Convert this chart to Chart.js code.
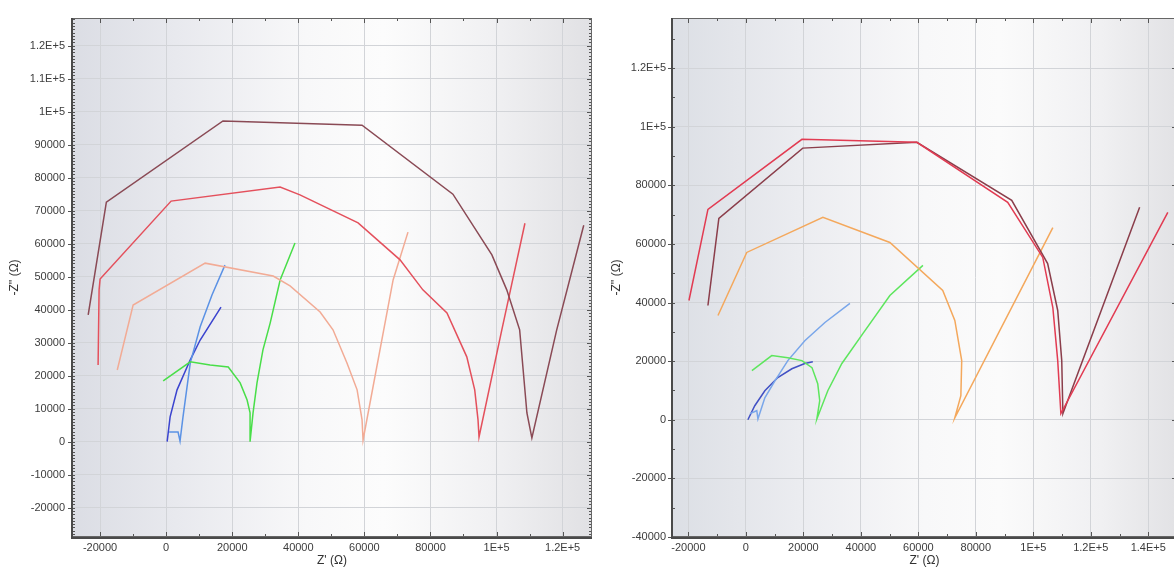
<!DOCTYPE html>
<html><head><meta charset="utf-8">
<script src="https://cdn.jsdelivr.net/npm/chart.js@4"></script>
<style>
html,body{margin:0;padding:0;overflow:hidden;background:#fff;width:1174px;height:569px;}
#wrap{position:relative;width:1174px;height:569px;overflow:hidden;}
#p1{position:absolute;left:0;top:0;width:600px;height:569px;}
#p2{position:absolute;left:600px;top:0;width:600px;height:569px;}
</style></head><body>
<div id="wrap"><div id="p1"><canvas id="c1"></canvas></div><div id="p2"><canvas id="c2"></canvas></div></div>
<script>
// ---------- tick labels ----------
const leftXTicks  = [-20000, 0, 20000, 40000, 60000, 80000, 100000, 120000];
const leftYTicks  = [-20000, -10000, 0, 10000, 20000, 30000, 40000, 50000, 60000, 70000, 80000, 90000, 100000, 110000, 120000];
const rightXTicks = [-20000, 0, 20000, 40000, 60000, 80000, 100000, 120000, 140000];
const rightYTicks = [-40000, -20000, 0, 20000, 40000, 60000, 80000, 100000, 120000];

// ---------- left panel series ----------
const L_brown_x = [-23600, -18100, 17200, 59300, 86800, 98600, 103100, 107000, 109200, 110700, 118200, 126400];
const L_brown_y = [38400, 72600, 97200, 95900, 75000, 56600, 46000, 33900, 8700, 1100, 33800, 65600];
const L_red_x = [-20600, -20300, -20000, 1500, 34500, 40500, 58100, 70800, 77700, 85000, 91000, 93400, 94400, 94700, 101600, 108600];
const L_red_y = [23200, 46000, 49300, 72900, 77200, 74800, 66300, 55100, 46000, 39000, 25700, 15700, 6600, 1400, 33900, 66200];
const L_salmon_x = [-14800, -10000, 11800, 32400, 37500, 46600, 50500, 54700, 57800, 59300, 59600, 68700, 73200];
const L_salmon_y = [21700, 41400, 54100, 50200, 47200, 39300, 33900, 23900, 15700, 6600, 500, 49000, 63500];
const L_green_x = [-900, 7300, 13300, 18800, 22400, 24500, 25400, 25400, 26300, 27500, 29300, 31500, 34500, 39000];
const L_green_y = [18400, 24200, 23200, 22600, 17800, 12600, 8700, 0, 8700, 17800, 27800, 36000, 49000, 60200];
const L_lblue_x = [900, 3600, 4200, 5100, 7300, 10300, 13900, 17800];
const L_lblue_y = [2900, 2900, 200, 7500, 23900, 34800, 44500, 53500];
const L_dblue_x = [300, 1200, 3300, 7300, 10300, 16600];
const L_dblue_y = [0, 7500, 15700, 24800, 30800, 40800];

// ---------- right panel series ----------
const R_red_x = [-19800, -13200, 19500, 59500, 91100, 103300, 106800, 108500, 109600, 146800];
const R_red_y = [40700, 71800, 95700, 94700, 74200, 55400, 38300, 20200, 2100, 70800];
const R_brown_x = [-13200, -9400, 19800, 59500, 92500, 105000, 108500, 109900, 110300, 137000];
const R_brown_y = [39000, 68700, 92700, 94700, 74900, 53300, 37300, 20200, 2100, 72500];
const R_orange_x = [-9700, 300, 26800, 50100, 68500, 72700, 75100, 74800, 72700, 106800];
const R_orange_y = [35600, 57100, 69100, 60500, 44100, 33900, 20200, 8200, 700, 65600];
const R_green_x = [2100, 9000, 14600, 19500, 23000, 25000, 25700, 24700, 28500, 33400, 40700, 50100, 61600];
const R_green_y = [16800, 21900, 21200, 20200, 17800, 12300, 6500, 300, 9900, 19200, 29400, 42400, 52700];
const R_lblue_x = [1400, 3800, 4200, 6600, 10100, 14600, 20500, 27500, 36200];
const R_lblue_y = [2100, 3100, 300, 7500, 13300, 20200, 27000, 33200, 39700];
const R_dblue_x = [700, 3100, 6600, 11100, 16000, 20500, 23300];
const R_dblue_y = [0, 4800, 9900, 14400, 17400, 19200, 19800];

function pts(xs, ys){ return xs.map((x,i)=>({x:x, y:ys[i]})); }
function fmt(v){ if (Math.abs(v) >= 100000) return (Math.round(v/1e4)/10) + 'E+5'; return String(v); }
function ds(xs, ys, color){ return {data: pts(xs, ys), showLine:true, borderColor:color, backgroundColor:color, borderWidth:1.5, pointRadius:0, pointHoverRadius:0, fill:false, tension:0}; }

function framePlugin(o){
  return {
    id:'frame',
    beforeDraw(chart){
      const {ctx, chartArea:a} = chart;
      const g = ctx.createLinearGradient(a.left,0,a.right,0);
      o.grad.forEach(s=>g.addColorStop(s[0], s[1]));
      ctx.save(); ctx.fillStyle = g; ctx.fillRect(a.left, a.top, a.right-a.left, a.bottom-a.top); ctx.restore();
    },
    afterDraw(chart){
      const {ctx, chartArea:a} = chart; const x = chart.scales.x, y = chart.scales.y;
      ctx.save();
      ctx.strokeStyle = '#555'; ctx.lineWidth = 1;
      ctx.beginPath();
      // x major / minor ticks, top and bottom, inward
      for (let v = Math.ceil(x.min/o.xMinor)*o.xMinor; v <= x.max; v += o.xMinor){
        const px = Math.round(x.getPixelForValue(v)) + 0.5;
        const major = Math.abs(v % o.xMajor) < 1;
        const len = major ? 5 : 3;
        ctx.moveTo(px, a.bottom); ctx.lineTo(px, a.bottom - len);
        ctx.moveTo(px, a.top); ctx.lineTo(px, a.top + len);
      }
      // y minor ticks inward on left and right
      for (let v = Math.ceil(y.min/o.yMinor)*o.yMinor; v <= y.max; v += o.yMinor){
        const py = Math.round(y.getPixelForValue(v)) + 0.5;
        ctx.moveTo(a.left, py); ctx.lineTo(a.left + 3, py);
        ctx.moveTo(a.right, py); ctx.lineTo(a.right - 3, py);
      }
      // y major ticks: outward on left, inward on right
      for (let v = Math.ceil(y.min/o.yMajor)*o.yMajor; v <= y.max; v += o.yMajor){
        const py = Math.round(y.getPixelForValue(v)) + 0.5;
        ctx.moveTo(a.left - 4, py); ctx.lineTo(a.left + 2, py);
        ctx.moveTo(a.right, py); ctx.lineTo(a.right - 5, py);
      }
      ctx.stroke();
      // frame
      ctx.strokeStyle = '#666'; ctx.lineWidth = 1;
      ctx.strokeRect(a.left+0.5, a.top+0.5, a.right-a.left-1, a.bottom-a.top-1);
      ctx.strokeStyle = '#4a4a4a'; ctx.lineWidth = 2;
      ctx.beginPath();
      ctx.moveTo(a.left, a.top); ctx.lineTo(a.left, a.bottom+1); ctx.lineTo(a.right, a.bottom+1);
      ctx.stroke();
      ctx.restore();
    }
  };
}

const FONT = {family:'"Liberation Sans", Arial, sans-serif', size:11};

function makeChart(id, c){
  return new Chart(document.getElementById(id), {
    type:'scatter',
    data:{datasets:c.datasets},
    options:{
      responsive:true, maintainAspectRatio:false, animation:false, devicePixelRatio:1,
      layout:{padding:{left:0, top:18, right:c.padRight, bottom:0}},
      plugins:{legend:{display:false}, tooltip:{enabled:false}},
      events:[],
      scales:{
        x:{type:'linear', min:c.xMin, max:c.xMax,
          afterBuildTicks:s=>{ s.ticks = c.xTicks.map(v=>({value:v})); },
          afterFit:s=>{ s.height = 32; },
          grid:{color:'#d2d4d8', lineWidth:1, drawTicks:false},
          border:{display:false},
          ticks:{callback:fmt, font:FONT, color:'#3c3c3c', padding:4, autoSkip:false, maxRotation:0},
          title:{display:true, text:"Z' (Ω)", font:{family:FONT.family, size:12}, color:'#333', padding:{top:0, bottom:1}}
        },
        y:{type:'linear', min:c.yMin, max:c.yMax,
          afterBuildTicks:s=>{ s.ticks = c.yTicks.map(v=>({value:v})); },
          afterFit:s=>{ s.width = 72; },
          grid:{color:'#d2d4d8', lineWidth:1, drawTicks:false},
          border:{display:false},
          ticks:{callback:fmt, font:FONT, color:'#3c3c3c', padding:c.yPad, autoSkip:false},
          title:{display:true, text:"-Z'' (Ω)", font:{family:FONT.family, size:12}, color:'#333', padding:{top:c.yTitlePad, bottom:0}}
        }
      }
    },
    plugins:[framePlugin(c.frame)]
  });
}

makeChart('c1', {
  xMin:-28500, xMax:128900, yMin:-28900, yMax:128400, padRight:8, yPad:7, yTitlePad:7,
  xTicks:leftXTicks, yTicks:leftYTicks,
  frame:{xMajor:20000, xMinor:10000, yMajor:10000, yMinor:1000,
    grad:[[0,'#dbdde4'],[0.2,'#e8e9ee'],[0.45,'#f8f8f9'],[0.6,'#fcfcfc'],[0.8,'#f1f1f3'],[1,'#e1e1e4']]},
  datasets:[
    ds(L_brown_x, L_brown_y, '#8a4a55'),
    ds(L_red_x, L_red_y, '#e4505c'),
    ds(L_salmon_x, L_salmon_y, '#f2ab95'),
    ds(L_green_x, L_green_y, '#48de48'),
    ds(L_lblue_x, L_lblue_y, '#5b92e5'),
    ds(L_dblue_x, L_dblue_y, '#3b44cf')
  ]
});

makeChart('c2', {
  xMin:-25700, xMax:150000, yMin:-40000, yMax:137100, padRight:23, yPad:6, yTitlePad:9,
  xTicks:rightXTicks, yTicks:rightYTicks,
  frame:{xMajor:20000, xMinor:10000, yMajor:20000, yMinor:10000,
    grad:[[0,'#dcdfe5'],[0.25,'#ebecf0'],[0.5,'#f8f8f9'],[0.65,'#fbfbfb'],[0.85,'#f0f0f2'],[1,'#e2e2e5']]},
  datasets:[
    ds(R_red_x, R_red_y, '#e23b52'),
    ds(R_brown_x, R_brown_y, '#8b3e4b'),
    ds(R_orange_x, R_orange_y, '#f4a85c'),
    ds(R_green_x, R_green_y, '#5de65d'),
    ds(R_lblue_x, R_lblue_y, '#79a6ea'),
    ds(R_dblue_x, R_dblue_y, '#4150c4')
  ]
});
</script>
</body></html>
